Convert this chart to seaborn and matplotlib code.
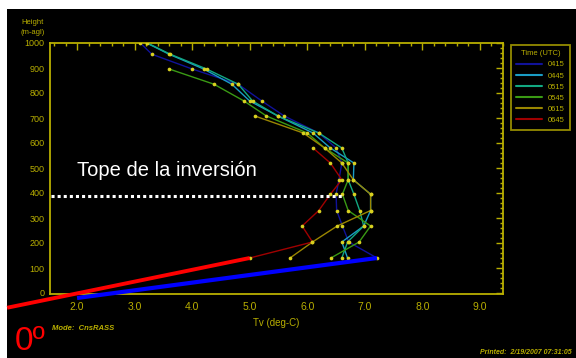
import numpy as np
import pandas as pd
import matplotlib
matplotlib.use("Agg")
import matplotlib.pyplot as plt
from matplotlib.lines import Line2D
from matplotlib.patches import Rectangle
from matplotlib.ticker import MultipleLocator
import seaborn as sns

# RASS virtual temperature profiles
heights = [140, 204, 268, 330, 395, 453, 520, 580, 640, 708, 768, 835, 896, 955, 1000]
tv_0415 = [7.21, 6.72, 6.61, 6.51, 6.50, 6.55, 6.60, 6.50, 6.20, 5.60, 5.21, 4.80, 4.00, 3.30, 3.10]
tv_0445 = [6.70, 6.60, 6.98, 7.10, 7.10, 6.80, 6.81, 6.40, 6.10, 5.49, 5.00, 4.69, 4.20, 3.60, 3.21]
tv_0515 = [6.60, 6.70, 6.98, 6.91, 6.81, 6.71, 6.71, 6.60, 6.20, 5.49, 5.05, 4.80, 4.25, 3.62, 3.22]
tv_0545 = [6.41, 6.90, 7.10, 6.71, 6.61, 6.71, 6.71, 6.30, 6.00, 5.29, 4.90, 4.38, 3.60, np.nan, np.nan]
tv_0615 = [5.70, 6.09, 6.52, 7.10, 7.10, 6.80, 6.60, 6.30, 5.93, 5.09, np.nan, np.nan, np.nan, np.nan, np.nan]
tv_0645 = [5.00, 6.09, 5.91, 6.20, 6.40, 6.60, 6.40, 6.10, np.nan, np.nan, np.nan, np.nan, np.nan, np.nan, np.nan]

times = ["0415", "0445", "0515", "0545", "0615", "0645"]
series = [tv_0415, tv_0445, tv_0515, tv_0545, tv_0615, tv_0645]
colors = ["#10129a", "#1a9cc4", "#12a882", "#3a9a14", "#9a8600", "#a00000"]

# annotation lines (inversion top, slope lines)
inv_top = 388
red_x, red_y = [0.785, 5.0], [-59, 140]
blue_x, blue_y = [2.0, 7.21], [-20, 140]

ycol = "#b8ae00"

df = pd.concat([pd.DataFrame({"time": t, "height": heights, "tv": s})
                for t, s in zip(times, series)]).dropna()

sns.set_style("dark")
plt.rcParams["font.family"] = ["Liberation Sans", "DejaVu Sans"]

fig = plt.figure(figsize=(5.76, 3.58), dpi=100)
fig.patch.set_facecolor("white")
fig.patches.append(Rectangle((7 / 576, 0), 1, 349 / 358, transform=fig.transFigure,
                             facecolor="black", edgecolor="none", zorder=-10))

ax = fig.add_axes([50 / 576, 1 - 294 / 358, 453 / 576, 251 / 358])
ax.set_facecolor("black")

sns.lineplot(data=df, x="tv", y="height", hue="time", palette=dict(zip(times, colors)),
             sort=False, estimator=None, lw=1, legend=False, ax=ax, zorder=3)
sns.scatterplot(data=df, x="tv", y="height", color="#d8d020", s=7, linewidth=0,
                ax=ax, zorder=4)

ax.plot([1.55, 6.6], [inv_top, inv_top], color="white", lw=2.2,
        linestyle=(0, (1, 1)), zorder=5)
ax.plot(blue_x, blue_y, color="#0000ff", lw=3, clip_on=False, zorder=6,
        solid_capstyle="butt")
ax.plot(red_x, red_y, color="#ff0000", lw=2.8, clip_on=False, zorder=7,
        solid_capstyle="butt")

ax.set_xlim(1.53, 9.4)
ax.set_ylim(-4, 1000)
ax.set_xticks(np.arange(2, 10))
ax.set_xticklabels([f"{v:.1f}" for v in range(2, 10)])
ax.set_yticks(np.arange(0, 1001, 100))
ax.xaxis.set_minor_locator(MultipleLocator(0.2))
ax.yaxis.set_minor_locator(MultipleLocator(20))
ax.tick_params(which="both", direction="in", top=True, right=True, colors=ycol,
               width=1)
ax.tick_params(which="major", length=5)
ax.tick_params(which="minor", length=2.5)
ax.tick_params(axis="x", labelsize=7.5, pad=6)
ax.tick_params(axis="y", labelsize=6.5, pad=4)
for sp in ax.spines.values():
    sp.set_color(ycol)
    sp.set_linewidth(1.3)
ax.grid(False)
ax.set_xlabel("Tv (deg-C)", color=ycol, fontsize=7, labelpad=4)
ax.set_ylabel("")

ax.text(2.0, 468, "Tope de la inversión", color="white", fontsize=14.5, va="baseline",
        zorder=8)

fig.text(33 / 576, 1 - 22 / 358, "Height", color=ycol, fontsize=5.5, ha="center", va="center")
fig.text(33 / 576, 1 - 33 / 358, "(m-agl)", color=ycol, fontsize=5.5, ha="center", va="center")
fig.text(52 / 576, 1 - 328 / 358, "Mode:  CnsRASS", color=ycol, fontsize=5.5,
         style="italic", weight="bold", va="center")
fig.text(572 / 576, 1 - 352 / 358, "Printed:  2/19/2007 07:31:05", color=ycol, fontsize=5,
         style="italic", weight="bold", ha="right", va="center")
fig.text(15 / 576, 1 - 350 / 358, "0º", color="#ff0000", fontsize=24, va="baseline")

handles = [Line2D([], [], color=c, lw=1.5) for c in colors]
leg = fig.legend(handles, times, title="Time (UTC)", loc="upper left",
                 bbox_to_anchor=(507 / 576, 1 - 41 / 358), fontsize=5.5,
                 title_fontsize=5.5, handlelength=3.4, handletextpad=0.7,
                 labelspacing=0.5, borderpad=0.7, frameon=True, fancybox=False)
leg.get_frame().set_facecolor("black")
leg.get_frame().set_edgecolor(ycol)
leg.get_frame().set_linewidth(1.3)
for t in leg.get_texts():
    t.set_color(ycol)
leg.get_title().set_color(ycol)

fig.savefig("out.png", dpi=100, facecolor=fig.get_facecolor())
